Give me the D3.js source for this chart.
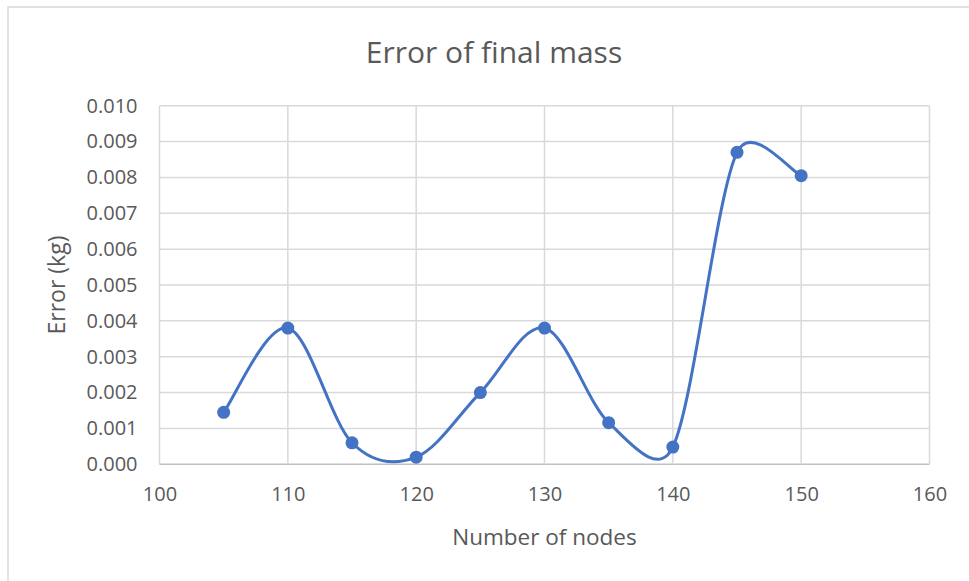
<!DOCTYPE html>
<html>
<head>
<meta charset="utf-8">
<script src="https://cdn.jsdelivr.net/npm/d3@7"></script>
<style>
  body { margin: 0; background: #fff; }
  text { font-family: "Open Sans", sans-serif; fill: #595959; }
</style>
</head>
<body>
<svg id="chart" width="969" height="581"></svg>
<script>
const WIDTH = 969;
const HEIGHT = 581;
const MARGIN_LEFT = 159.5;
const MARGIN_RIGHT = 39.5;
const MARGIN_TOP = 105.7;
const MARGIN_BOT = 116.7;
const LINE_COLOR = "#4472c4";
const GRID_COLOR = "#d9d9d9";

// data
const nodes = [105, 110, 115, 120, 125, 130, 135, 140, 145, 150];
const errors = [0.00145, 0.0038, 0.0006, 0.0002, 0.002, 0.0038, 0.00116, 0.00048, 0.0087, 0.00805];
const xTicks = [100, 110, 120, 130, 140, 150, 160];
const yTicks = [0, 0.001, 0.002, 0.003, 0.004, 0.005, 0.006, 0.007, 0.008, 0.009, 0.010];

var svg = d3.select("#chart");
var w = WIDTH - MARGIN_LEFT - MARGIN_RIGHT,
    h = HEIGHT - MARGIN_TOP - MARGIN_BOT;

var xScale = d3.scaleLinear().domain([100, 160]).range([MARGIN_LEFT, MARGIN_LEFT + w]),
    yScale = d3.scaleLinear().domain([0, 0.010]).range([MARGIN_TOP + h, MARGIN_TOP]);

// outer chart border
svg.append("rect")
    .attr("x", 8).attr("y", 7)
    .attr("width", WIDTH).attr("height", HEIGHT)
    .attr("fill", "none")
    .attr("stroke", "#d9d9d9")
    .attr("stroke-width", 1.5);

// gridlines
svg.append("g").selectAll("line")
    .data(yTicks)
  .enter().append("line")
    .attr("x1", MARGIN_LEFT).attr("x2", MARGIN_LEFT + w)
    .attr("y1", d => yScale(d)).attr("y2", d => yScale(d))
    .attr("stroke", (d, i) => i == 0 ? "#bfbfbf" : GRID_COLOR)
    .attr("stroke-width", 1.5);

svg.append("g").selectAll("line")
    .data(xTicks)
  .enter().append("line")
    .attr("x1", d => xScale(d)).attr("x2", d => xScale(d))
    .attr("y1", MARGIN_TOP).attr("y2", MARGIN_TOP + h)
    .attr("stroke", GRID_COLOR)
    .attr("stroke-width", 1.5);

// axes (labels only, Excel style)
var yAxis = d3.axisLeft(yScale).tickValues(yTicks).tickFormat(d3.format(".3f")).tickSize(0).tickPadding(22);
var xAxis = d3.axisBottom(xScale).tickValues(xTicks).tickSize(0).tickPadding(23);

svg.append("g")
    .attr("transform", "translate(" + MARGIN_LEFT + ",0)")
    .call(yAxis);
svg.append("g")
    .attr("transform", "translate(0," + (MARGIN_TOP + h) + ")")
    .call(xAxis);
svg.selectAll(".domain").remove();
svg.selectAll(".tick text")
    .attr("font-family", "Open Sans, sans-serif")
    .attr("font-size", "20px")
    .attr("fill", "#595959");

/*
 * Excel-like smoothed line: bezier segments with 1/6 tangents,
 * tangent shortened to half the segment length when too long
 */
function excelSmooth(pts) {
	var dist = (a, b) => Math.hypot(b[0] - a[0], b[1] - a[1]);
	var path = d3.path();
	path.moveTo(pts[0][0], pts[0][1]);
	for (var i = 0; i < pts.length - 1; i++) {
		var p0 = pts[Math.max(i - 1, 0)],
			p1 = pts[i],
			p2 = pts[i + 1],
			p3 = pts[Math.min(i + 2, pts.length - 1)];
		var d12 = dist(p1, p2), d02 = dist(p0, p2), d13 = dist(p1, p3);
		var f1 = 1 / 6, f2 = 1 / 6;
		if (d02 / 6 > d12 / 2) f1 = d12 / (2 * d02);
		if (d13 / 6 > d12 / 2) f2 = d12 / (2 * d13);
		path.bezierCurveTo(
			p1[0] + f1 * (p2[0] - p0[0]), p1[1] + f1 * (p2[1] - p0[1]),
			p2[0] - f2 * (p3[0] - p1[0]), p2[1] - f2 * (p3[1] - p1[1]),
			p2[0], p2[1]);
	}
	return path.toString();
}

var pts = errors.map((d, i) => [xScale(nodes[i]), yScale(d)]);

svg.append("path")
    .attr("d", excelSmooth(pts))
    .attr("fill", "none")
    .attr("stroke", LINE_COLOR)
    .attr("stroke-width", 3)
    .attr("stroke-linecap", "round");

// dots
svg.selectAll(".dot")
    .data(errors)
  .enter().append("circle")
    .attr("class", "dot")
    .attr("r", 6.5)
    .attr("cx", (d, i) => xScale(nodes[i]))
    .attr("cy", d => yScale(d))
    .attr("fill", LINE_COLOR);

// titles
svg.append("text")
    .attr("x", 494).attr("y", 63)
    .attr("text-anchor", "middle")
    .attr("font-size", "30px")
    .text("Error of final mass");

svg.append("text")
    .attr("x", MARGIN_LEFT + w / 2).attr("y", 545)
    .attr("text-anchor", "middle")
    .attr("font-size", "22.5px")
    .text("Number of nodes");

svg.append("text")
    .attr("transform", "translate(65," + (MARGIN_TOP + h / 2) + ") rotate(-90)")
    .attr("text-anchor", "middle")
    .attr("font-size", "23px")
    .text("Error (kg)");
</script>
</body>
</html>
